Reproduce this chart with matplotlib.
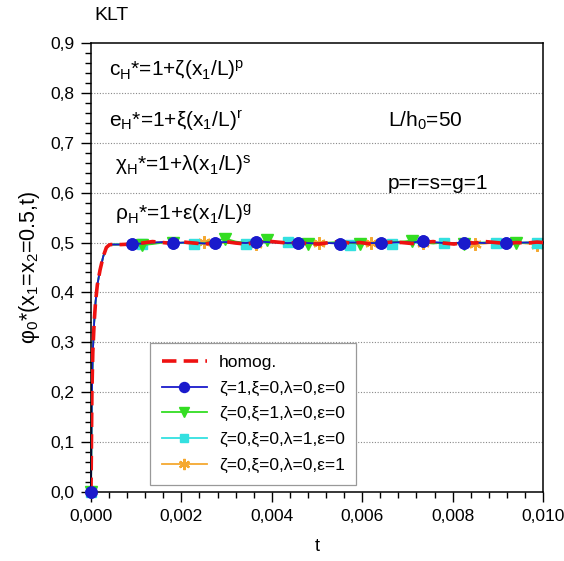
import numpy as np
import matplotlib
matplotlib.use("Agg")
import matplotlib.pyplot as plt
from matplotlib.ticker import MultipleLocator, FuncFormatter

plt.rcParams['font.family'] = ['Liberation Sans', 'DejaVu Sans']
plt.rcParams['mathtext.fontset'] = 'custom'
plt.rcParams['mathtext.rm'] = 'Liberation Sans'
plt.rcParams['mathtext.it'] = 'Liberation Sans:italic'
plt.rcParams['mathtext.bf'] = 'Liberation Sans:bold'

# ---- data ----
rise_t = [0, 0.00001, 0.00002, 0.00004, 0.00007, 0.0001, 0.00014, 0.0002, 0.00027, 0.00034, 0.0004]
rise_y = [0, 0.10, 0.20, 0.28, 0.34, 0.38, 0.415, 0.445, 0.472, 0.490, 0.495]

plateau_t = [0.00044, 0.00067, 0.00090, 0.00113, 0.00136, 0.00159, 0.00182, 0.00205, 0.00228, 0.00251,
             0.00274, 0.00297, 0.00320, 0.00343, 0.00366, 0.00389, 0.00412, 0.00435, 0.00458, 0.00481,
             0.00504, 0.00527, 0.00550, 0.00573, 0.00596, 0.00619, 0.00642, 0.00665, 0.00688, 0.00711,
             0.00734, 0.00757, 0.00780, 0.00803, 0.00826, 0.00849, 0.00872, 0.00895, 0.00918, 0.00941,
             0.00964, 0.00987, 0.01000]

homog_p = [0.496, 0.496, 0.497, 0.499, 0.502, 0.500, 0.498, 0.501, 0.499, 0.497,
           0.500, 0.502, 0.499, 0.497, 0.500, 0.503, 0.501, 0.499, 0.500, 0.498,
           0.497, 0.500, 0.502, 0.499, 0.500, 0.497, 0.499, 0.501, 0.500, 0.498,
           0.500, 0.502, 0.499, 0.497, 0.500, 0.499, 0.502, 0.500, 0.498, 0.500,
           0.499, 0.501, 0.500]
zeta_p = [0.496, 0.496, 0.497, 0.498, 0.500, 0.501, 0.499, 0.500, 0.500, 0.498,
          0.500, 0.501, 0.500, 0.499, 0.502, 0.501, 0.500, 0.499, 0.500, 0.499,
          0.498, 0.499, 0.498, 0.500, 0.500, 0.499, 0.499, 0.500, 0.501, 0.500,
          0.503, 0.501, 0.499, 0.499, 0.500, 0.500, 0.499, 0.500, 0.499, 0.500,
          0.500, 0.500, 0.500]
xi_p = [0.496, 0.496, 0.496, 0.495, 0.497, 0.500, 0.499, 0.500, 0.498, 0.499,
        0.503, 0.508, 0.502, 0.499, 0.501, 0.505, 0.501, 0.498, 0.499, 0.497,
        0.499, 0.500, 0.501, 0.499, 0.498, 0.499, 0.500, 0.501, 0.502, 0.504,
        0.500, 0.498, 0.500, 0.499, 0.497, 0.499, 0.500, 0.501, 0.500, 0.499,
        0.500, 0.500, 0.501]
lam_p = [0.496, 0.497, 0.497, 0.498, 0.499, 0.500, 0.500, 0.499, 0.497, 0.499,
         0.500, 0.501, 0.499, 0.497, 0.499, 0.500, 0.501, 0.502, 0.500, 0.499,
         0.498, 0.499, 0.498, 0.496, 0.498, 0.499, 0.500, 0.498, 0.499, 0.500,
         0.499, 0.500, 0.500, 0.499, 0.498, 0.499, 0.500, 0.499, 0.500, 0.499,
         0.500, 0.499, 0.500]
eps_p = [0.496, 0.496, 0.497, 0.499, 0.500, 0.501, 0.500, 0.499, 0.500, 0.502,
         0.501, 0.499, 0.500, 0.499, 0.498, 0.500, 0.501, 0.500, 0.499, 0.500,
         0.500, 0.499, 0.500, 0.501, 0.500, 0.499, 0.500, 0.499, 0.500, 0.501,
         0.500, 0.499, 0.500, 0.499, 0.498, 0.497, 0.498, 0.500, 0.499, 0.500,
         0.498, 0.496, 0.497]

labels = ['homog.',
          'ζ=1,ξ=0,λ=0,ε=0',
          'ζ=0,ξ=1,λ=0,ε=0',
          'ζ=0,ξ=0,λ=1,ε=0',
          'ζ=0,ξ=0,λ=0,ε=1']

# marker positions (indices into plateau arrays)
zeta_marks = [2, 6, 10, 14, 18, 22, 26, 30, 34, 38]
xi_marks = [3, 6, 11, 15, 19, 24, 29, 34, 39]
lam_marks = [3, 8, 13, 17, 23, 27, 32, 37, 41]
eps_marks = [9, 14, 20, 25, 30, 35, 41]

t_all = np.array(rise_t + plateau_t)
n_r = len(rise_t)


def full(p):
    return np.array(rise_y + p)


def marks(m):
    return [0] + [n_r + k for k in m]


fig = plt.figure(figsize=(5.64, 5.61), dpi=100)
ax = fig.add_axes([91 / 564, 1 - 492 / 561, 452 / 564, 449 / 561])

c_red = '#ee1111'
c_blue = '#1a1acc'
c_green = '#33dd22'
c_cyan = '#33e0e0'
c_orange = '#f5a830'

lo, = ax.plot(t_all, full(eps_p), color=c_orange, lw=1.3, marker=(6, 2, 0), ms=9, mew=1.6,
              markevery=marks(eps_marks), clip_on=False, zorder=2, label=labels[4])
lc, = ax.plot(t_all, full(lam_p), color=c_cyan, lw=1.3, marker='s', ms=7,
              markevery=marks(lam_marks), clip_on=False, zorder=2.1, label=labels[3])
lg, = ax.plot(t_all, full(xi_p), color=c_green, lw=1.3, marker='v', ms=8,
              markevery=marks(xi_marks), clip_on=False, zorder=2.2, label=labels[2])
lb, = ax.plot(t_all, full(zeta_p), color=c_blue, lw=1.3, marker='o', ms=8,
              markevery=marks(zeta_marks), clip_on=False, zorder=2.3, label=labels[1])
lr, = ax.plot(t_all, full(homog_p), color=c_red, lw=2.6, ls=(0, (4, 2)),
              zorder=3, label=labels[0])
# blue markers on top
ax.plot(t_all, full(zeta_p), color=c_blue, lw=0, marker='o', ms=8,
        markevery=marks(zeta_marks), clip_on=False, zorder=4)

ax.set_xlim(0, 0.01)
ax.set_ylim(0, 0.9)

ax.xaxis.set_major_locator(MultipleLocator(0.002))
ax.xaxis.set_minor_locator(MultipleLocator(0.0004))
ax.yaxis.set_major_locator(MultipleLocator(0.1))
ax.yaxis.set_minor_locator(MultipleLocator(0.02))
ax.xaxis.set_major_formatter(FuncFormatter(lambda v, p: f'{v:.3f}'.replace('.', ',')))
ax.yaxis.set_major_formatter(FuncFormatter(lambda v, p: f'{v:.1f}'.replace('.', ',')))

ax.tick_params(which='both', direction='out', top=False, right=False, labelsize=12.5,
               width=1.0, colors='black')
ax.tick_params(which='major', length=7, pad=5)
ax.tick_params(which='minor', length=4)
for s in ax.spines.values():
    s.set_linewidth(1.1)

for yv in [0.1, 0.2, 0.3, 0.4, 0.5, 0.6, 0.7, 0.8]:
    ax.axhline(yv, color='#888888', lw=0.8, ls=(0, (1, 1.5)), zorder=0.5)

ax.set_xlabel('t', fontsize=13, labelpad=10)
ax.set_ylabel(r'$\text{φ}_\text{0}\text{*(x}_\text{1}\text{=x}_\text{2}\text{=0.5,t)}$',
              fontsize=15.5, labelpad=6)

fig.text(94 / 564, 1 - 15 / 561, 'KLT', fontsize=14, va='center', ha='left')

fs = 15
ax.text(0.0004, 0.846, r'$\text{c}_\text{H}\text{*=1+ζ(x}_\text{1}\text{/L)}^\text{p}$', fontsize=fs, va='center')
ax.text(0.0004, 0.744, r'$\text{e}_\text{H}\text{*=1+ξ(x}_\text{1}\text{/L)}^\text{r}$', fontsize=fs, va='center')
ax.text(0.00052, 0.655, r'$\text{χ}_\text{H}\text{*=1+λ(x}_\text{1}\text{/L)}^\text{s}$', fontsize=fs, va='center')
ax.text(0.00052, 0.557, r'$\text{ρ}_\text{H}\text{*=1+ε(x}_\text{1}\text{/L)}^\text{g}$', fontsize=fs, va='center')
ax.text(0.00657, 0.744, r'$\text{L/h}_\text{0}\text{=50}$', fontsize=fs, va='center')
ax.text(0.00657, 0.619, 'p=r=s=g=1', fontsize=fs, va='center')

leg = ax.legend(handles=[lr, lb, lg, lc, lo], loc='lower left',
                bbox_to_anchor=(0.13, 0.016, 0.456, 0.323), mode='expand',
                fontsize=12.5, frameon=True, fancybox=False, edgecolor='#999999',
                framealpha=1, handlelength=2.6, handletextpad=0.7,
                labelspacing=0.6, borderpad=0.7, borderaxespad=0, markerscale=0.9)
leg.get_frame().set_linewidth(0.9)

fig.savefig('out.png', dpi=100)
